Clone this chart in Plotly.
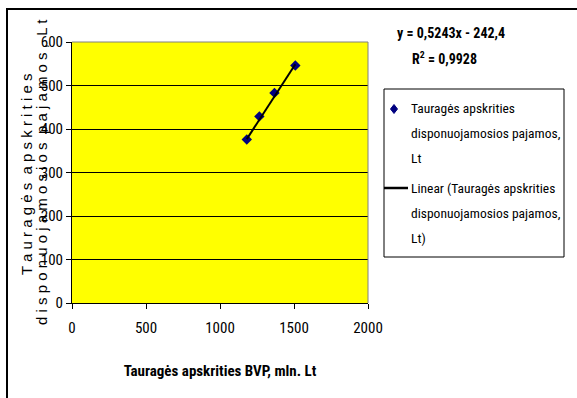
import plotly.graph_objects as go

# ---- data ----
bvp = [1181, 1266, 1368, 1509]          # Tauragės apskrities BVP, mln. Lt
pajamos = [376, 429, 483, 546]          # disponuojamosios pajamos, Lt
trend_coef = [0.5243, -242.4]           # slope, intercept (from the printed equation)
equation_text = "y = 0,5243x - 242,4"
r_squared = "0,9928"
x_ticks = [0, 500, 1000, 1500, 2000]
y_ticks = [0, 100, 200, 300, 400, 500, 600]
series_name = ["Tauragės apskrities", "disponuojamosios pajamos,", "Lt"]
trend_name = ["Linear (Tauragės apskrities", "disponuojamosios pajamos,", "Lt)"]
y_title = ["Tauragės apskrities", "disponuojamosios pajamos, Lt"]
x_title = "Tauragės apskrities BVP, mln. Lt"

NARROW = "Liberation Sans Narrow, Arial Narrow, Roboto Condensed, Liberation Sans, Arial, sans-serif"
REG = "Liberation Sans, Arial, sans-serif"


def spaced(s):
    return "  ".join(" ".join(list(w)) for w in s.split(" "))


trend_x = [min(bvp), max(bvp)]
trend_y = [trend_coef[0] * v + trend_coef[1] for v in trend_x]

fig = go.Figure()
fig.add_trace(go.Scatter(
    x=bvp, y=pajamos, mode="markers",
    name=" ".join(series_name),
    marker=dict(symbol="diamond", size=8, color="#000080"),
))
fig.add_trace(go.Scatter(
    x=trend_x, y=trend_y, mode="lines",
    name=" ".join(trend_name),
    line=dict(color="black", width=2),
))

W, H = 577, 398
L, R, T, B = 72, 209, 42, 95
pw, ph = W - L - R, H - T - B


def px(x):
    return (x - L) / pw


def py(y):
    return (H - B - y) / ph


annotations = [
    dict(xref="paper", yref="paper", x=px(451), y=py(33), showarrow=False,
         text="<b>%s</b>" % equation_text,
         font=dict(family=NARROW, size=14), xanchor="center", yanchor="middle"),
    dict(xref="paper", yref="paper", x=px(444), y=py(58), showarrow=False,
         text="<b>R<sup>2</sup> = %s</b>" % r_squared,
         font=dict(family=NARROW, size=14), xanchor="center", yanchor="middle"),
]
# y-axis title: two spaced-out rotated lines
for txt, xc, yc in zip(y_title, [26, 41], [175, 172]):
    annotations.append(dict(
        xref="paper", yref="paper", x=px(xc), y=py(yc), showarrow=False,
        text=spaced(txt), textangle=-90,
        font=dict(family=REG, size=15, color="black"),
        xanchor="center", yanchor="middle"))
# legend text lines
for lines, ys in [(series_name, [108, 133, 158]), (trend_name, [188, 213, 238])]:
    for txt, yy in zip(lines, ys):
        annotations.append(dict(
            xref="paper", yref="paper", x=px(409), y=py(yy), showarrow=False,
            text=txt, font=dict(family=NARROW, size=13.5, color="black"),
            xanchor="left", yanchor="middle"))

dx, dy = 3.5 / pw, 4.5 / ph
cx, cy = px(394), py(109)
diamond = "M %f %f L %f %f L %f %f L %f %f Z" % (cx, cy + dy, cx + dx, cy, cx, cy - dy, cx - dx, cy)

shapes = [
    # plot area frame (gray on top/right)
    dict(type="line", xref="paper", yref="paper", x0=0, x1=1, y0=1, y1=1,
         line=dict(color="#808080", width=1)),
    dict(type="line", xref="paper", yref="paper", x0=1, x1=1, y0=0, y1=1,
         line=dict(color="#808080", width=1)),
    # chart outer border
    dict(type="rect", xref="paper", yref="paper",
         x0=px(7), x1=px(600), y0=py(420), y1=py(9),
         line=dict(color="black", width=2), fillcolor="rgba(0,0,0,0)", layer="below"),
    # legend box
    dict(type="rect", xref="paper", yref="paper",
         x0=px(384), x1=px(564), y0=py(257), y1=py(89),
         line=dict(color="black", width=1), fillcolor="white"),
    # legend symbols
    dict(type="path", xref="paper", yref="paper", path=diamond,
         line=dict(color="#000080", width=1), fillcolor="#000080"),
    dict(type="line", xref="paper", yref="paper", x0=px(384), x1=px(408), y0=py(188), y1=py(188),
         line=dict(color="black", width=2.5)),
]

fig.update_layout(
    width=W, height=H,
    margin=dict(l=L, r=R, t=T, b=B, autoexpand=False),
    paper_bgcolor="white",
    plot_bgcolor="#FFFF00",
    font=dict(family=NARROW, size=15, color="black"),
    showlegend=False,
    xaxis=dict(
        range=[0, 2000], tickvals=x_ticks, ticktext=[str(v) for v in x_ticks],
        showgrid=False, zeroline=False,
        showline=True, linecolor="black", linewidth=1,
        ticks="outside", ticklen=5, tickcolor="black",
        ticklabelstandoff=6,
        title=dict(text="<b>%s</b>" % x_title,
                   font=dict(family=NARROW, size=15), standoff=29),
    ),
    yaxis=dict(
        range=[0, 600], tickvals=y_ticks, ticktext=[str(v) for v in y_ticks],
        showgrid=True, gridcolor="black", gridwidth=1,
        zeroline=False,
        showline=True, linecolor="black", linewidth=1,
        ticks="outside", ticklen=5, tickcolor="black",
    ),
    shapes=shapes,
    annotations=annotations,
)

fig.write_html("out.html", config={"displayModeBar": False},
               post_script="document.body.style.margin='0';document.body.style.padding='0';")
